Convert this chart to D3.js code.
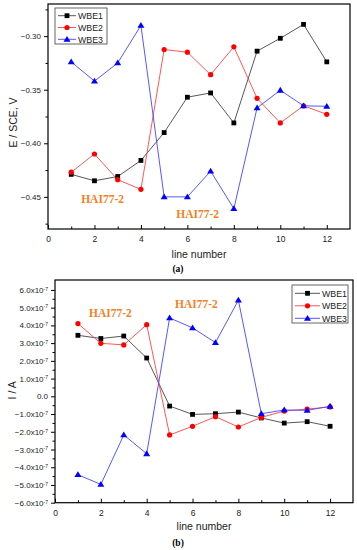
<!DOCTYPE html>
<html>
<head>
<meta charset="utf-8">
<script src="https://cdn.jsdelivr.net/npm/d3@7"></script>
<style>
  body { margin: 0; background: #fff; }
  svg { display: block; font-family: "Liberation Sans", Arial, sans-serif; }
  .tick text { fill: #222; }
</style>
</head>
<body>
<div id="viz"></div>
<script>
// line numbers along the x axis
const lineNumbers = [1, 2, 3, 4, 5, 6, 7, 8, 9, 10, 11, 12];
const seriesNames = ["WBE1", "WBE2", "WBE3"];

// (a) potential E / SCE, V
const potWBE1 = [-0.429, -0.435, -0.431, -0.416, -0.390, -0.357, -0.353, -0.381, -0.314, -0.302, -0.289, -0.324];
const potWBE2 = [-0.427, -0.410, -0.434, -0.443, -0.3125, -0.315, -0.336, -0.310, -0.358, -0.381, -0.365, -0.373];
const potWBE3 = [-0.324, -0.342, -0.325, -0.290, -0.450, -0.450, -0.426, -0.461, -0.367, -0.3505, -0.365, -0.3655];

// (b) current I / A, in units of 1e-7
const curWBE1 = [3.44, 3.26, 3.40, 2.16, -0.55, -1.02, -0.98, -0.89, -1.22, -1.51, -1.43, -1.69];
const curWBE2 = [4.10, 2.99, 2.90, 4.04, -2.18, -1.69, -1.15, -1.73, -1.19, -0.83, -0.72, -0.60];
const curWBE3 = [-4.42, -4.97, -2.18, -3.24, 4.42, 3.86, 3.03, 5.42, -0.98, -0.77, -0.79, -0.56];

const xTicks = [0, 2, 4, 6, 8, 10, 12];
const potTicks = [-0.45, -0.40, -0.35, -0.30];
const curTicks = [-6, -5, -4, -3, -2, -1, 0, 1, 2, 3, 4, 5, 6];

// annotation text placed in data units
const notesA = [{x: 2.35, y: -0.4557}, {x: 6.44, y: -0.4697}];
const notesB = [{x: 2.42, y: 4.47}, {x: 6.17, y: 4.98}];

const colors = ["#000000", "#ff0000", "#0000ff"];
const lineColors = ["#444444", "#ff4444", "#4444ff"];
const orange = "#f5801f";

const svg = d3.select("#viz").append("svg")
  .attr("width", 357)
  .attr("height", 550);

function marker(g, type, x, y, color) {
  if (type === 0) {
    g.append("rect").attr("x", x - 2.4).attr("y", y - 2.4)
      .attr("width", 4.8).attr("height", 4.8).attr("fill", color);
  } else if (type === 1) {
    g.append("circle").attr("cx", x).attr("cy", y).attr("r", 2.6).attr("fill", color);
  } else {
    g.append("path")
      .attr("d", `M${x},${y - 3.4}L${x + 3.5},${y + 2.4}L${x - 3.5},${y + 2.4}Z`)
      .attr("fill", color);
  }
}

function panel(opts) {
  const {left, right, top, bottom, yDomain, series, yTicks, yMinor, yFmt, legend, notes, yTitle, tag, tagY, titleY, titleX} = opts;
  const x = d3.scaleLinear().domain([0, 13]).range([left, right]);
  const y = d3.scaleLinear().domain(yDomain).range([bottom, top]);
  const g = svg.append("g");

  // box
  g.append("rect")
    .attr("x", left).attr("y", top)
    .attr("width", right - left).attr("height", bottom - top)
    .attr("fill", "none").attr("stroke", "#000").attr("stroke-width", 1.2);

  // x axis, ticks inward
  const xAxis = g.append("g")
    .attr("transform", `translate(0,${bottom})`)
    .call(d3.axisBottom(x).tickValues(xTicks).tickSize(-4).tickPadding(7).tickFormat(d3.format("d")));
  xAxis.select(".domain").remove();
  xAxis.selectAll("text").style("font-size", "8.5px");
  g.append("g")
    .attr("transform", `translate(0,${bottom})`)
    .call(d3.axisBottom(x).tickValues(d3.range(1, 13, 2)).tickSize(-2.5).tickFormat(""))
    .select(".domain").remove();

  // y axis, ticks outward
  const yAxis = g.append("g")
    .attr("transform", `translate(${left},0)`)
    .call(d3.axisLeft(y).tickValues(yTicks).tickSize(4).tickPadding(3).tickFormat(yFmt));
  yAxis.select(".domain").remove();
  yAxis.selectAll("text").style("font-size", "8px");
  g.append("g")
    .attr("transform", `translate(${left},0)`)
    .call(d3.axisLeft(y).tickValues(yMinor).tickSize(2.5).tickFormat(""))
    .select(".domain").remove();

  if (opts.superscript) {
    yAxis.selectAll(".tick text").each(function(d) {
      const t = d3.select(this);
      if (d === 0) return;
      t.text(null);
      t.append("tspan").text(d3.format(".1f")(d) + "x10");
      t.append("tspan").attr("dy", "-0.45em").style("font-size", "5px").text("-7");
    });
  }

  // series
  const line = d3.line().x((d, i) => x(lineNumbers[i])).y(d => y(d));
  series.forEach((vals, s) => {
    g.append("path")
      .datum(vals)
      .attr("d", line)
      .attr("fill", "none")
      .attr("stroke", lineColors[s])
      .attr("stroke-width", 0.9);
  });
  series.forEach((vals, s) => {
    vals.forEach((v, i) => marker(g, s, x(lineNumbers[i]), y(v), colors[s]));
  });

  // annotations
  notes.forEach(n => {
    g.append("text")
      .attr("x", x(n.x)).attr("y", y(n.y))
      .attr("text-anchor", "middle")
      .style("font-family", "'Liberation Serif', 'Times New Roman', serif")
      .style("font-weight", "bold")
      .style("font-size", "11.5px")
      .attr("fill", orange)
      .text("HAI77-2");
  });

  // legend
  const lg = g.append("g");
  lg.append("rect")
    .attr("x", legend.x).attr("y", legend.y)
    .attr("width", legend.w).attr("height", legend.h)
    .attr("fill", "#fff").attr("stroke", "#555").attr("stroke-width", 0.9);
  seriesNames.forEach((name, s) => {
    const ly = legend.y + legend.pad + s * legend.step;
    lg.append("line")
      .attr("x1", legend.x + 3).attr("x2", legend.x + 3 + legend.len)
      .attr("y1", ly).attr("y2", ly)
      .attr("stroke", lineColors[s]).attr("stroke-width", 0.9);
    marker(lg, s, legend.x + 3 + legend.len / 2, ly, colors[s]);
    lg.append("text")
      .attr("x", legend.x + 5 + legend.len).attr("y", ly + 3.2)
      .style("font-size", "8.8px").attr("fill", "#222")
      .text(name);
  });

  // titles
  g.append("text")
    .attr("transform", `translate(${titleX},${(top + bottom) / 2 + opts.yTitleShift}) rotate(-90)`)
    .attr("text-anchor", "middle")
    .style("font-size", "10.5px").attr("fill", "#222")
    .text(yTitle);
  g.append("text")
    .attr("x", (left + right) / 2).attr("y", titleY)
    .attr("text-anchor", "middle")
    .style("font-size", "10.5px").attr("fill", "#222")
    .text("line number");
  g.append("text")
    .attr("x", 178).attr("y", tagY)
    .attr("text-anchor", "middle")
    .style("font-family", "'Liberation Serif', 'Times New Roman', serif")
    .style("font-weight", "bold")
    .style("font-size", "9.5px")
    .text(tag);
}

panel({
  left: 48, right: 350, top: 4, bottom: 229,
  yDomain: [-0.48, -0.27],
  series: [potWBE1, potWBE2, potWBE3],
  yTicks: potTicks,
  yMinor: [-0.475, -0.425, -0.375, -0.325, -0.275],
  yFmt: d3.format(".2f"),
  legend: {x: 55, y: 8, w: 52, h: 36, pad: 7.7, step: 11.8, len: 18},
  notes: notesA,
  yTitle: "E / SCE, V", yTitleShift: 6, titleX: 17,
  titleY: 258, tag: "(a)", tagY: 271.5
});

panel({
  left: 55, right: 353, top: 280, bottom: 502.7,
  yDomain: [-6, 6.56],
  series: [curWBE1, curWBE2, curWBE3],
  yTicks: curTicks,
  yMinor: d3.range(-5.5, 6.5, 1),
  yFmt: d => d === 0 ? "0.0" : d3.format(".1f")(d),
  superscript: true,
  legend: {x: 292, y: 285, w: 56, h: 38, pad: 8.3, step: 12.5, len: 25},
  notes: notesB,
  yTitle: "I / A", yTitleShift: -1, titleX: 16,
  titleY: 530, tag: "(b)", tagY: 545.5
});
</script>
</body>
</html>
